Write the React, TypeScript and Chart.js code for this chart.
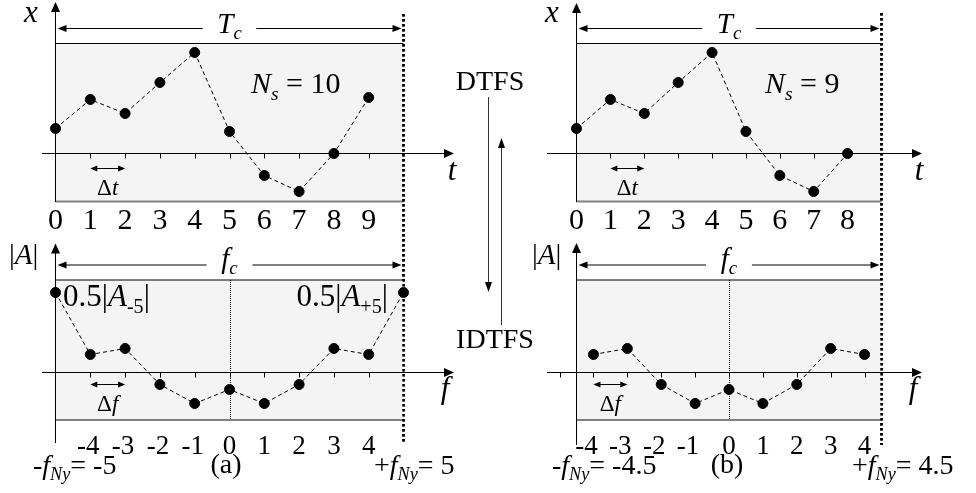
import { useEffect, useRef } from 'react';
import { Chart, registerables } from 'chart.js';

Chart.register(...registerables);

const PAGE_W = 976;
const PAGE_H = 493;
const SERIF = '"Liberation Serif", "Times New Roman", serif';

// (a) one period of ten samples and its two-sided spectrum
const timeIndexA = [0, 1, 2, 3, 4, 5, 6, 7, 8, 9];
const signalA = [2.5, 5.4, 4.0, 7.1, 10.1, 2.2, -2.2, -3.8, 0, 5.6];
const freqIndexA = [-5, -4, -3, -2, -1, 0, 1, 2, 3, 4, 5];
const spectrumA = [8.0, 1.8, 2.4, -1.2, -3.1, -1.7, -3.1, -1.2, 2.4, 1.8, 8.0];

// (b) one period of nine samples and its two-sided spectrum
const timeIndexB = [0, 1, 2, 3, 4, 5, 6, 7, 8];
const signalB = [2.5, 5.4, 4.0, 7.1, 10.1, 2.2, -2.2, -3.8, 0];
const freqIndexB = [-4, -3, -2, -1, 0, 1, 2, 3, 4];
const spectrumB = [1.8, 2.4, -1.2, -3.1, -1.7, -3.1, -1.2, 2.4, 1.8];

// horizontal-axis tick marks and tick labels
const timeTicksA = [1, 2, 3, 4, 5, 6, 7, 8, 9];
const timeTickLabelsA = ['0', '1', '2', '3', '4', '5', '6', '7', '8', '9'];
const timeTicksB = [1, 2, 3, 4, 5, 6, 7, 8];
const timeTickLabelsB = ['0', '1', '2', '3', '4', '5', '6', '7', '8'];
const freqTicksA = [-4, -3, -2, -1, 0, 1, 2, 3, 4];
const freqTicksB = [-5, -4, -3, -2, -1, 0, 1, 2, 3, 4];
const freqTickLabels = ['-4', '-3', '-2', '-1', '0', '1', '2', '3', '4'];

type Part = { t: string; it?: boolean; sub?: boolean };
type Label = { parts: Part[]; x: number; y: number; size: number; align?: 'left' | 'center' | 'right' };

type Panel = {
  xs: number[];
  ys: number[];
  xRange: [number, number];
  yRange: [number, number];
  area: { left: number; top: number; right: number; bottom: number };
  axisStart: number;
  axisTip: number;
  yAxisTip: number;
  yAxisEnd: number;
  tickMarks: number[];
  tickLabels: string[];
  tickSize: number;
  tickBaseline: number;
  negShift: number;
  spanText: Part[];
  spanBaseline: number;
  step: [number, number];
  stepDrop: number;
  stepText: Part[];
  stepBaseline: number;
  zeroLine: boolean;
  boundary: [number, number];
  labels: Label[];
  bridge?: boolean;
};

const it = (t: string): Part => ({ t, it: true });
const up = (t: string): Part => ({ t });
const sub = (t: string, italic = false): Part => ({ t, sub: true, it: italic });

const TOP = { top: 43.5, bottom: 201.5 };
const BOTTOM = { top: 280, bottom: 420 };
const LEFT = { left: 55.5, right: 403.5 };
const RIGHT = { left: 576.5, right: 881.5 };

const PANELS: Panel[] = [
  {
    xs: timeIndexA,
    ys: signalA,
    xRange: [0, 10],
    yRange: [-4.8, 11],
    area: { ...LEFT, ...TOP },
    axisStart: 42,
    axisTip: 454,
    yAxisTip: 2,
    yAxisEnd: 202,
    tickMarks: timeTicksA,
    tickLabels: timeTickLabelsA,
    tickSize: 30,
    tickBaseline: 229,
    negShift: 0,
    spanText: [it('T'), sub('c', true)],
    spanBaseline: 33,
    step: [1, 2],
    stepDrop: 15,
    stepText: [up('Δ'), it('t')],
    stepBaseline: 195,
    zeroLine: false,
    boundary: [14, 444],
    labels: [
      { parts: [it('x')], x: 31, y: 22, size: 31, align: 'center' },
      { parts: [it('t')], x: 452, y: 180, size: 31, align: 'center' },
      { parts: [it('N'), sub('s', true), up(' = 10')], x: 251, y: 93, size: 30 },
    ],
  },
  {
    xs: freqIndexA,
    ys: spectrumA,
    xRange: [-5, 5],
    yRange: [-4.75, 9.25],
    area: { ...LEFT, ...BOTTOM },
    axisStart: 42,
    axisTip: 454,
    yAxisTip: 243.5,
    yAxisEnd: 443,
    tickMarks: freqTicksA,
    tickLabels: freqTickLabels,
    tickSize: 27,
    tickBaseline: 454,
    negShift: -2,
    spanText: [it('f'), sub('c', true)],
    spanBaseline: 268,
    step: [-4, -3],
    stepDrop: 12,
    stepText: [up('Δ'), it('f')],
    stepBaseline: 411,
    zeroLine: true,
    boundary: [14, 444],
    labels: [
      { parts: [up('|'), it('A'), up('|')], x: 9, y: 264, size: 29 },
      { parts: [it('f')], x: 445, y: 398, size: 31, align: 'center' },
      { parts: [up('0.5|'), it('A'), sub('-5'), up('|')], x: 63, y: 306, size: 31 },
      { parts: [up('0.5|'), it('A'), sub('+5'), up('|')], x: 388, y: 306, size: 31, align: 'right' },
      { parts: [up('-'), it('f'), sub('Ny', true), up('= -5')], x: 33, y: 474, size: 28 },
      { parts: [up('(a)')], x: 226, y: 473, size: 28, align: 'center' },
      { parts: [up('+'), it('f'), sub('Ny', true), up('= 5')], x: 374, y: 474, size: 28 },
    ],
  },
  {
    xs: timeIndexB,
    ys: signalB,
    xRange: [0, 9],
    yRange: [-4.8, 11],
    area: { ...RIGHT, ...TOP },
    axisStart: 547,
    axisTip: 922,
    yAxisTip: 3,
    yAxisEnd: 202,
    tickMarks: timeTicksB,
    tickLabels: timeTickLabelsB,
    tickSize: 30,
    tickBaseline: 229,
    negShift: 0,
    spanText: [it('T'), sub('c', true)],
    spanBaseline: 33,
    step: [1, 2],
    stepDrop: 15,
    stepText: [up('Δ'), it('t')],
    stepBaseline: 195,
    zeroLine: false,
    boundary: [13, 445],
    labels: [
      { parts: [it('x')], x: 552, y: 22, size: 31, align: 'center' },
      { parts: [it('t')], x: 919, y: 180, size: 31, align: 'center' },
      { parts: [it('N'), sub('s', true), up(' = 9')], x: 765, y: 93, size: 30 },
    ],
    bridge: true,
  },
  {
    xs: freqIndexB,
    ys: spectrumB,
    xRange: [-4.5, 4.5],
    yRange: [-4.75, 9.25],
    area: { ...RIGHT, ...BOTTOM },
    axisStart: 547,
    axisTip: 922,
    yAxisTip: 243,
    yAxisEnd: 445,
    tickMarks: freqTicksB,
    tickLabels: freqTickLabels,
    tickSize: 27,
    tickBaseline: 454,
    negShift: -7,
    spanText: [it('f'), sub('c', true)],
    spanBaseline: 268,
    step: [-4, -3],
    stepDrop: 12,
    stepText: [up('Δ'), it('f')],
    stepBaseline: 411,
    zeroLine: true,
    boundary: [13, 445],
    labels: [
      { parts: [up('|'), it('A'), up('|')], x: 532, y: 264, size: 29 },
      { parts: [it('f')], x: 913, y: 398, size: 31, align: 'center' },
      { parts: [up('-'), it('f'), sub('Ny', true), up('= -4.5')], x: 552, y: 474, size: 28 },
      { parts: [up('(b)')], x: 727, y: 473, size: 28, align: 'center' },
      { parts: [up('+'), it('f'), sub('Ny', true), up('= 4.5')], x: 852, y: 474, size: 28 },
    ],
  },
];

function setFont(ctx: CanvasRenderingContext2D, size: number, italic: boolean) {
  ctx.font = `${italic ? 'italic ' : ''}${size}px ${SERIF}`;
}

function richWidth(ctx: CanvasRenderingContext2D, parts: Part[], size: number) {
  let w = 0;
  for (const p of parts) {
    setFont(ctx, p.sub ? size * 0.65 : size, !!p.it);
    w += ctx.measureText(p.t).width;
  }
  return w;
}

function drawRich(
  ctx: CanvasRenderingContext2D,
  parts: Part[],
  x: number,
  y: number,
  size: number,
  align: 'left' | 'center' | 'right' = 'left',
) {
  const w = richWidth(ctx, parts, size);
  let cx = align === 'center' ? x - w / 2 : align === 'right' ? x - w : x;
  ctx.textAlign = 'left';
  ctx.textBaseline = 'alphabetic';
  ctx.fillStyle = '#000';
  for (const p of parts) {
    const s = p.sub ? size * 0.65 : size;
    setFont(ctx, s, !!p.it);
    ctx.fillText(p.t, cx, y + (p.sub ? size * 0.22 : 0));
    cx += ctx.measureText(p.t).width;
  }
  return w;
}

function seg(ctx: CanvasRenderingContext2D, x1: number, y1: number, x2: number, y2: number) {
  ctx.beginPath();
  ctx.moveTo(x1, y1);
  ctx.lineTo(x2, y2);
  ctx.stroke();
}

// filled arrowhead with its tip at (x, y), pointing along (dx, dy)
function head(ctx: CanvasRenderingContext2D, x: number, y: number, dx: number, dy: number, len: number, hw: number) {
  const bx = x - dx * len;
  const by = y - dy * len;
  ctx.beginPath();
  ctx.moveTo(x, y);
  ctx.lineTo(bx - dy * hw, by + dx * hw);
  ctx.lineTo(bx + dy * hw, by - dx * hw);
  ctx.closePath();
  ctx.fill();
}

function makeDecor(panel: Panel) {
  return {
    id: 'panelDecor',
    beforeDatasetsDraw(chart: Chart) {
      const { ctx, chartArea: a } = chart;
      const xs = chart.scales.x;
      const ys = chart.scales.y;
      const ox = a.left;
      const oy = ys.getPixelForValue(0);
      ctx.save();

      // shaded period band
      ctx.fillStyle = '#f4f4f4';
      ctx.fillRect(a.left, a.top, a.right - a.left, a.bottom - a.top);
      ctx.strokeStyle = '#000';
      ctx.lineWidth = 1;
      seg(ctx, a.left, a.top, a.right, a.top);
      ctx.strokeStyle = '#808080';
      ctx.lineWidth = 2;
      seg(ctx, a.left, a.bottom, a.right, a.bottom);

      // f = 0 reference line
      if (panel.zeroLine) {
        const zx = Math.round(xs.getPixelForValue(0)) + 0.5;
        ctx.strokeStyle = '#000';
        ctx.lineWidth = 1;
        ctx.setLineDash([1, 1]);
        seg(ctx, zx, a.top, zx, a.bottom);
        ctx.setLineDash([]);
      }

      // horizontal axis with tick marks
      ctx.strokeStyle = '#000';
      ctx.fillStyle = '#000';
      ctx.lineWidth = 1;
      seg(ctx, panel.axisStart, oy, panel.axisTip - 8, oy);
      head(ctx, panel.axisTip, oy, 1, 0, 10, 4.5);
      for (const v of panel.tickMarks) {
        const px = Math.round(xs.getPixelForValue(v)) + 0.5;
        seg(ctx, px, oy, px, oy + 5);
      }

      // vertical axis
      seg(ctx, ox, panel.yAxisEnd, ox, panel.yAxisTip + 8);
      head(ctx, ox, panel.yAxisTip, 0, -1, 10, 4.5);

      // end of the period
      ctx.lineWidth = 2.5;
      ctx.setLineDash([2.5, 2.5]);
      seg(ctx, a.right, panel.boundary[0], a.right, panel.boundary[1]);
      ctx.setLineDash([]);

      // period span arrow
      ctx.lineWidth = 1;
      const sy = a.top - 15;
      const sl = a.left + 2;
      const sr = a.right - 2;
      const mid = (sl + sr) / 2;
      const tw = richWidth(ctx, panel.spanText, 28);
      const gap = tw / 2 + 15;
      seg(ctx, sl + 6, sy, mid - gap, sy);
      seg(ctx, mid + gap, sy, sr - 6, sy);
      head(ctx, sl, sy, -1, 0, 9, 3.5);
      head(ctx, sr, sy, 1, 0, 9, 3.5);

      // sample spacing arrow
      const s1 = xs.getPixelForValue(panel.step[0]);
      const s2 = xs.getPixelForValue(panel.step[1]);
      const dy = oy + panel.stepDrop;
      seg(ctx, s1 + 5, dy, s2 - 5, dy);
      head(ctx, s1, dy, -1, 0, 7, 3);
      head(ctx, s2, dy, 1, 0, 7, 3);

      ctx.restore();
    },
    afterDatasetsDraw(chart: Chart) {
      const { ctx, chartArea: a } = chart;
      const xs = chart.scales.x;
      ctx.save();

      for (const lbl of panel.tickLabels) {
        const v = parseFloat(lbl);
        const px = xs.getPixelForValue(v) + (v < 0 ? panel.negShift : 0);
        drawRich(ctx, [up(lbl)], px, panel.tickBaseline, panel.tickSize, 'center');
      }

      const mid = (a.left + a.right) / 2;
      drawRich(ctx, panel.spanText, mid, panel.spanBaseline, 29, 'center');

      const sm = (xs.getPixelForValue(panel.step[0]) + xs.getPixelForValue(panel.step[1])) / 2;
      drawRich(ctx, panel.stepText, sm, panel.stepBaseline, 23, 'center');

      for (const l of panel.labels) drawRich(ctx, l.parts, l.x, l.y, l.size, l.align);

      if (panel.bridge) {
        drawRich(ctx, [up('DTFS')], 490, 90, 28, 'center');
        drawRich(ctx, [up('IDTFS')], 495, 348, 28, 'center');
        ctx.strokeStyle = '#333';
        ctx.fillStyle = '#000';
        ctx.lineWidth = 1;
        seg(ctx, 488.5, 97, 488.5, 284);
        head(ctx, 488.5, 292, 0, 1, 10, 3.5);
        seg(ctx, 501.5, 325, 501.5, 146);
        head(ctx, 501.5, 138, 0, -1, 10, 3.5);
      }
      ctx.restore();
    },
  };
}

function PanelChart({ panel }: { panel: Panel }) {
  const ref = useRef<HTMLCanvasElement>(null);
  useEffect(() => {
    const canvas = ref.current;
    if (!canvas) return;
    const chart = new Chart(canvas, {
      type: 'scatter',
      data: {
        datasets: [
          {
            data: panel.xs.map((x, i) => ({ x, y: panel.ys[i] })),
            showLine: true,
            borderColor: '#000',
            borderWidth: 1,
            borderDash: [4, 3],
            pointRadius: 5,
            pointBorderWidth: 1,
            pointBackgroundColor: '#000',
            pointBorderColor: '#000',
            clip: false,
          },
        ],
      },
      options: {
        responsive: false,
        animation: false,
        events: [],
        layout: {
          padding: {
            left: panel.area.left,
            top: panel.area.top,
            right: PAGE_W - panel.area.right,
            bottom: PAGE_H - panel.area.bottom,
          },
        },
        scales: {
          x: { type: 'linear', display: false, min: panel.xRange[0], max: panel.xRange[1] },
          y: { type: 'linear', display: false, min: panel.yRange[0], max: panel.yRange[1] },
        },
        plugins: { legend: { display: false }, tooltip: { enabled: false } },
      },
      plugins: [makeDecor(panel)],
    });
    return () => chart.destroy();
  }, [panel]);
  return (
    <canvas
      ref={ref}
      width={PAGE_W}
      height={PAGE_H}
      style={{ position: 'absolute', left: 0, top: 0 }}
    />
  );
}

export default function App() {
  return (
    <div
      style={{
        position: 'fixed',
        left: 0,
        top: 0,
        width: PAGE_W,
        height: PAGE_H,
        background: '#fff',
        overflow: 'hidden',
      }}
    >
      {PANELS.map((p, i) => (
        <PanelChart key={i} panel={p} />
      ))}
    </div>
  );
}
